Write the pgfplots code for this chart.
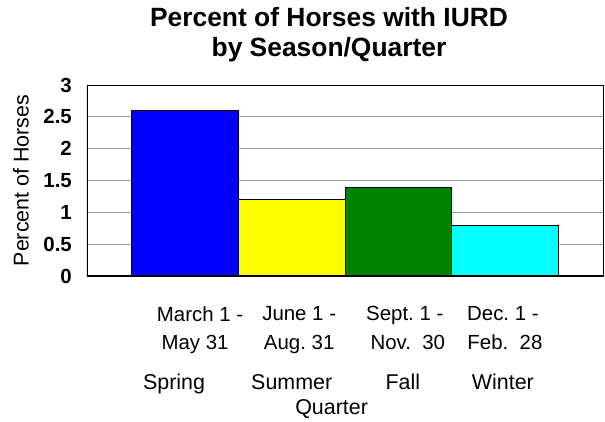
\documentclass[border=0pt]{standalone}
\usepackage{pgfplots}
\pgfplotsset{compat=1.18}
\usepackage{fontspec}
\setmainfont{Liberation Sans}
\frenchspacing

\definecolor{barblue}{RGB}{0,0,255}
\definecolor{baryellow}{RGB}{255,255,0}
\definecolor{bargreen}{RGB}{0,128,0}
\definecolor{barcyan}{RGB}{0,255,255}

\newcommand{\season}[1]{{\fontsize{21.5}{29}\selectfont #1}}
% nudge one line of a centred label: right by half of #1, or left by half of #1
\newcommand{\R}[2]{\hspace*{#1}#2}
\newcommand{\La}[2]{#2\hspace*{#1}}

\begin{document}
\begin{tikzpicture}
\begin{axis}[
    width=516bp, height=191bp,
    scale only axis,
    xmin=-0.92, xmax=3.92,
    ymin=0, ymax=3,
    ytick={0,0.5,1,1.5,2,2.5,3},
    xtick={0,1,2,3},
    xticklabels={
        {\R{30bp}{March 1 -}\\\R{20bp}{May 31}\\[11bp]\La{22bp}{\season{Spring}}},
        {\R{15bp}{June 1 -}\\\R{15bp}{Aug. 31}\\[11bp]\season{Summer}},
        {\R{13bp}{Sept. 1 -}\\\R{19bp}{Nov.\ \ 30}\\[11bp]\R{9bp}{\season{Fall}}},
        {\La{4bp}{Dec. 1 -}\\\La{8bp}{Feb.\ \ 28}\\[11bp]\La{4bp}{\season{Winter}}}},
    major tick length=0pt,
    /pgf/number format/assume math mode=true,
    yticklabel={\pgfmathprintnumber{\tick}},
    yticklabel style={font=\fontsize{20.5}{24}\selectfont\bfseries, anchor=east, inner sep=0pt, xshift=-15bp},
    xticklabel style={font=\fontsize{20.5}{29}\selectfont, align=center, anchor=north, inner sep=0pt, yshift=-30bp},
    ymajorgrids=true,
    grid style={gray!80, line width=0.8bp},
    axis line style={black, line width=0.8bp},
    ylabel={Percent of Horses},
    ylabel style={font=\fontsize{21.5}{24}\selectfont, at={(axis description cs:-0.128,0.5)}, anchor=center},
    xlabel={Quarter},
    xlabel style={font=\fontsize{21.5}{24}\selectfont, at={(axis description cs:0.474,-0.696)}, anchor=center},
    title={Percent of Horses with IURD\\by Season/Quarter},
    title style={font=\fontsize{26.5}{30}\selectfont\bfseries, align=center, at={(axis description cs:0.469,1.09)}, anchor=south, inner sep=0pt},
]
\addplot[ybar, bar width=1, bar shift=0, fill=barblue, draw=black, line width=0.6bp] coordinates {(0,2.6)};
\addplot[ybar, bar width=1, bar shift=0, fill=baryellow, draw=black, line width=0.6bp] coordinates {(1,1.2)};
\addplot[ybar, bar width=1, bar shift=0, fill=bargreen, draw=black, line width=0.6bp] coordinates {(2,1.4)};
\addplot[ybar, bar width=1, bar shift=0, fill=barcyan, draw=black, line width=0.6bp] coordinates {(3,0.8)};
\draw[black, line width=2bp] (rel axis cs:0,1) -- (rel axis cs:0,0) -- (rel axis cs:1,0);
\end{axis}
\pgfresetboundingbox
\path[use as bounding box] ([xshift=-87bp,yshift=-146bp]current axis.south west) rectangle ([xshift=2bp,yshift=85bp]current axis.north east);
\end{tikzpicture}
\end{document}
